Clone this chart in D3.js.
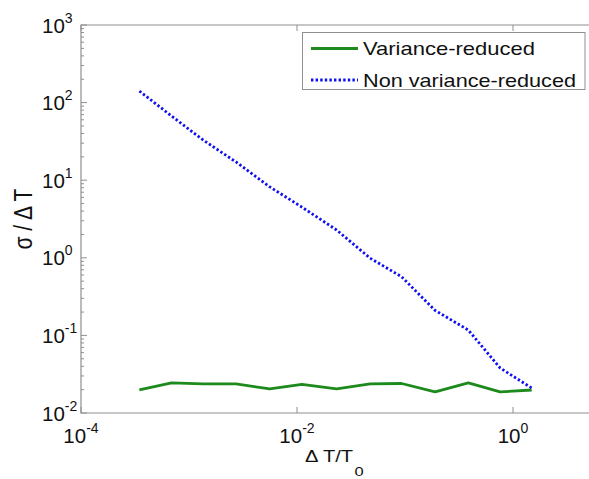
<!DOCTYPE html>
<html>
<head>
<meta charset="utf-8">
<script src="https://cdn.jsdelivr.net/npm/d3@7"></script>
<style>
  body { margin: 0; background: #fff; }
  svg { display: block; font-family: Arial, "Liberation Sans", sans-serif; }
</style>
</head>
<body>
<svg id="chart" width="589" height="479"></svg>
<script>
// values
const dtRatio = [3.47e-4, 6.9e-4, 1.35e-3, 2.72e-3, 5.6e-3, 0.0111, 0.0233, 0.0475, 0.093, 0.19, 0.386, 0.76, 1.49];
const varReduced = [0.0198, 0.0244, 0.0237, 0.0237, 0.0204, 0.0234, 0.0204, 0.0237, 0.024, 0.0187, 0.0244, 0.0187, 0.0198];
const nonReduced = [141, 67, 33, 17.2, 8.2, 4.5, 2.28, 0.99, 0.57, 0.21, 0.117, 0.038, 0.021];
const xTicks = [-4, -2, 0];
const yTicks = [-2, -1, 0, 1, 2, 3];
const seriesNames = ["Variance-reduced", "Non variance-reduced"];

const svg = d3.select("#chart");
const mLeft = 81, mTop = 25, mBottom = 413, W = 589;
const axisCol = "#8f8f8f";
const green = "#1c8a1c", blue = "#1010ee";

const x = d3.scaleLog().domain([1e-4, 5]).range([mLeft, mLeft + 108 * Math.log10(5e4)]);
const y = d3.scaleLog().domain([1e-2, 1e3]).range([mBottom, mTop]);

// frame (right side is cropped off in the original)
svg.append("path")
    .attr("d", `M${W},${mTop}H${mLeft}V${mBottom}H${W}`)
    .attr("fill", "none")
    .attr("stroke", axisCol)
    .attr("stroke-width", 1.2);

// y ticks, major + minor, inward
const yMinor = [];
for (let e = -2; e < 3; e++) for (let m = 2; m < 10; m++) yMinor.push(m * Math.pow(10, e));
svg.append("g").selectAll("line").data(yMinor).join("line")
    .attr("x1", mLeft).attr("x2", mLeft + 3)
    .attr("y1", d => y(d)).attr("y2", d => y(d))
    .attr("stroke", axisCol).attr("stroke-width", 1);
svg.append("g").selectAll("line").data(yTicks).join("line")
    .attr("x1", mLeft).attr("x2", mLeft + 6)
    .attr("y1", d => y(Math.pow(10, d))).attr("y2", d => y(Math.pow(10, d)))
    .attr("stroke", axisCol).attr("stroke-width", 1);

// x ticks bottom + top
const xt = svg.append("g");
xTicks.forEach(e => {
  const px = x(Math.pow(10, e));
  xt.append("line").attr("x1", px).attr("x2", px).attr("y1", mBottom).attr("y2", mBottom - 6)
    .attr("stroke", axisCol);
  xt.append("line").attr("x1", px).attr("x2", px).attr("y1", mTop).attr("y2", mTop + 6)
    .attr("stroke", axisCol);
});

// tick labels
function powLabel(sel, e) {
  sel.append("tspan").text("10");
  sel.append("tspan").attr("dy", -10).attr("font-size", 14).text(String(e));
}
svg.append("g").selectAll("text").data(yTicks).join("text")
    .attr("x", 42).attr("y", d => y(Math.pow(10, d)) + 7.5)
    .attr("font-size", 20.5).attr("fill", "#111")
    .each(function(d) { powLabel(d3.select(this), d); });
svg.append("g").selectAll("text").data(xTicks).join("text")
    .attr("x", d => x(Math.pow(10, d))).attr("y", 443)
    .attr("text-anchor", "middle").attr("font-size", 20.5).attr("fill", "#111")
    .each(function(d) { powLabel(d3.select(this), d); });

// axis titles (text in the original is a bit wider than it is tall)
const xTitle = svg.append("g").attr("transform", "translate(305,462) scale(1.22,1)");
xTitle.append("text").attr("font-size", 16.5).attr("fill", "#111").text("\u0394 T/T");
xTitle.append("text").attr("x", 40.5).attr("y", 14.5).attr("font-size", 13.5).attr("fill", "#111").text("0");

svg.append("text")
    .attr("transform", "translate(32,219) rotate(-90) scale(1,1.2)")
    .attr("text-anchor", "middle").attr("font-size", 21).attr("fill", "#111")
    .text("\u03c3 / \u0394 T");

// lines
const line = d3.line().x(d => x(d[0])).y(d => y(d[1]));
svg.append("path")
    .datum(d3.zip(dtRatio, varReduced))
    .attr("d", line).attr("fill", "none")
    .attr("stroke", green).attr("stroke-width", 2.8).attr("stroke-linejoin", "round");
svg.append("path")
    .datum(d3.zip(dtRatio, nonReduced))
    .attr("d", line).attr("fill", "none")
    .attr("stroke", blue).attr("stroke-width", 2.8).attr("stroke-dasharray", "2.4,2.2");

// legend
const lg = svg.append("g");
lg.append("rect").attr("x", 302.5).attr("y", 32.5).attr("width", 282.5).attr("height", 57)
    .attr("fill", "#fff").attr("stroke", axisCol).attr("stroke-width", 1);
const legItems = [
  { name: seriesNames[0], color: green, dash: null, y: 48.5, len: 172 },
  { name: seriesNames[1], color: blue, dash: "2.4,2.2", y: 80, len: 213 }
];
legItems.forEach(it => {
  lg.append("line").attr("x1", 311).attr("x2", 358).attr("y1", it.y).attr("y2", it.y)
    .attr("stroke", it.color).attr("stroke-width", 2.8).attr("stroke-dasharray", it.dash);
  lg.append("text").attr("x", 363).attr("y", it.y + 6.8)
    .attr("font-size", 18.5).attr("fill", "#111")
    .attr("textLength", it.len).attr("lengthAdjust", "spacingAndGlyphs")
    .text(it.name);
});
</script>
</body>
</html>
